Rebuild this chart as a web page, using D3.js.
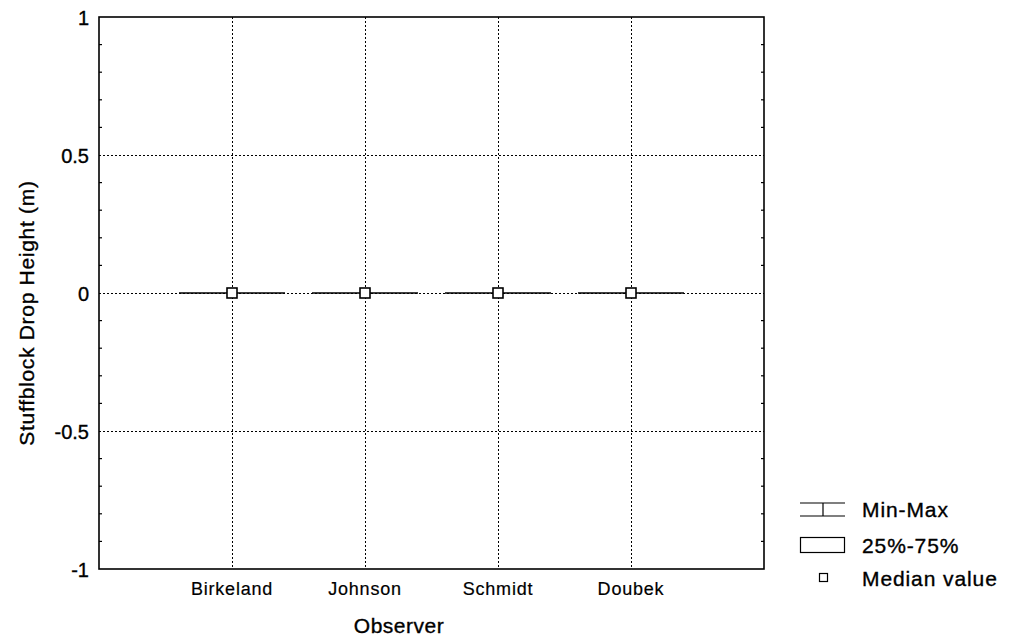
<!DOCTYPE html>
<html>
<head>
<meta charset="utf-8">
<script src="https://cdn.jsdelivr.net/npm/d3@7"></script>
<style>
  html, body { margin: 0; padding: 0; background: #fff; }
  svg { display: block; font-family: Arial, "Liberation Sans", sans-serif; }
  svg text { fill: #000; stroke: #000; stroke-width: 0.35px; }
  svg text.cat { stroke-width: 0.2px; }
</style>
</head>
<body>
<svg id="chart" width="1014" height="642"></svg>
<script>
// Observers and their drop-height statistics (m)
const observers = ["Birkeland", "Johnson", "Schmidt", "Doubek"];
const minValues = [0, 0, 0, 0];
const q1Values = [0, 0, 0, 0];
const medianValues = [0, 0, 0, 0];
const q3Values = [0, 0, 0, 0];
const maxValues = [0, 0, 0, 0];
const yTicks = [-1, -0.5, 0, 0.5, 1];
const yGridValues = [-0.5, 0, 0.5];
const legendLabels = ["Min-Max", "25%-75%", "Median value"];

const svg = d3.select("#chart");
const plot = { left: 99, right: 764, top: 17, bottom: 569 };

const y = d3.scaleLinear().domain([-1, 1]).range([plot.bottom, plot.top]);
const xPos = d3.scaleLinear().domain([0, observers.length + 1]).range([plot.left, plot.right]);
const x = name => xPos(observers.indexOf(name) + 1);
const boxHalf = 53;

// grid lines
const grid = svg.append("g").attr("stroke", "#000").attr("stroke-width", 1)
  .attr("stroke-dasharray", "2,2");
grid.selectAll(".hg").data(yGridValues).join("line")
  .attr("x1", plot.left).attr("x2", plot.right)
  .attr("y1", d => Math.round(y(d)) + 0.5).attr("y2", d => Math.round(y(d)) + 0.5);
grid.selectAll(".vg").data(observers).join("line")
  .attr("y1", plot.top).attr("y2", plot.bottom)
  .attr("x1", d => Math.round(x(d)) + 0.5).attr("x2", d => Math.round(x(d)) + 0.5);

// frame
svg.append("rect")
  .attr("x", plot.left).attr("y", plot.top)
  .attr("width", plot.right - plot.left).attr("height", plot.bottom - plot.top)
  .attr("fill", "none").attr("stroke", "#000").attr("stroke-width", 1.6);

// minor ticks every 0.1 on both sides, pointing inward
const minor = d3.range(-9, 10).map(i => i / 10).filter(v => Math.abs(v % 0.5) > 1e-9);
const ticks = svg.append("g").attr("stroke", "#000").attr("stroke-width", 1.2);
ticks.selectAll(".ml").data(minor).join("line")
  .attr("x1", plot.left).attr("x2", plot.left + 3)
  .attr("y1", d => y(d)).attr("y2", d => y(d));
ticks.selectAll(".mr").data(minor).join("line")
  .attr("x1", plot.right).attr("x2", plot.right - 3)
  .attr("y1", d => y(d)).attr("y2", d => y(d));

// y tick labels (plain hyphen for negatives)
svg.append("g").selectAll("text").data(yTicks).join("text")
  .attr("x", 89).attr("y", d => y(d) + 7.5)
  .attr("text-anchor", "end").attr("font-size", 20)
  .text(d => String(d));

// x tick labels
svg.append("g").selectAll("text").data(observers).join("text")
  .attr("class", "cat")
  .attr("x", d => x(d)).attr("y", 595)
  .attr("text-anchor", "middle").attr("font-size", 18).attr("letter-spacing", 0.8)
  .text(d => d);

// axis titles
svg.append("text").attr("x", 399).attr("y", 633).attr("text-anchor", "middle")
  .attr("font-size", 21).attr("letter-spacing", 0.5).text("Observer");
svg.append("text").attr("transform", `translate(34,${(plot.top + plot.bottom) / 2 + 20}) rotate(-90)`)
  .attr("text-anchor", "middle").attr("font-size", 21).attr("letter-spacing", 0.7)
  .text("Stuffblock Drop Height (m)");

// box plots
const stats = observers.map((name, i) => ({
  name, min: minValues[i], q1: q1Values[i], med: medianValues[i], q3: q3Values[i], max: maxValues[i]
}));
const boxes = svg.append("g").selectAll("g").data(stats).join("g");
// whiskers
boxes.append("line").attr("stroke", "#000").attr("stroke-width", 1.2)
  .attr("x1", d => x(d.name)).attr("x2", d => x(d.name))
  .attr("y1", d => y(d.max)).attr("y2", d => y(d.min));
boxes.append("line").attr("stroke", "#000").attr("stroke-width", 1.2)
  .attr("x1", d => x(d.name) - boxHalf).attr("x2", d => x(d.name) + boxHalf)
  .attr("y1", d => y(d.max)).attr("y2", d => y(d.max));
boxes.append("line").attr("stroke", "#000").attr("stroke-width", 1.2)
  .attr("x1", d => x(d.name) - boxHalf).attr("x2", d => x(d.name) + boxHalf)
  .attr("y1", d => y(d.min)).attr("y2", d => y(d.min));
// quartile box
boxes.append("rect").attr("fill", "#fff").attr("stroke", "#000").attr("stroke-width", 1.2)
  .attr("x", d => x(d.name) - boxHalf).attr("width", boxHalf * 2)
  .attr("y", d => y(d.q3)).attr("height", d => y(d.q1) - y(d.q3));
// median marker
boxes.append("rect").attr("fill", "#fff").attr("stroke", "#000").attr("stroke-width", 1.6)
  .attr("x", d => x(d.name) - 5).attr("y", d => y(d.med) - 5)
  .attr("width", 10).attr("height", 10);

// legend
const lg = svg.append("g");
lg.append("line").attr("x1", 800).attr("x2", 845).attr("y1", 503).attr("y2", 503).attr("stroke", "#000").attr("stroke-width", 1.2);
lg.append("line").attr("x1", 800).attr("x2", 845).attr("y1", 516).attr("y2", 516).attr("stroke", "#000").attr("stroke-width", 1.2);
lg.append("line").attr("x1", 823).attr("x2", 823).attr("y1", 503).attr("y2", 516).attr("stroke", "#000").attr("stroke-width", 1.2);
lg.append("rect").attr("x", 800.5).attr("y", 537.5).attr("width", 44).attr("height", 15)
  .attr("fill", "#fff").attr("stroke", "#000").attr("stroke-width", 1.2);
lg.append("rect").attr("x", 819.5).attr("y", 573.5).attr("width", 8).attr("height", 8)
  .attr("fill", "#fff").attr("stroke", "#000").attr("stroke-width", 1.2);
lg.selectAll("text").data(legendLabels).join("text")
  .attr("x", 862).attr("y", (d, i) => [517, 553, 586][i])
  .attr("font-size", 21).attr("letter-spacing", 0.9)
  .text(d => d);
</script>
</body>
</html>
